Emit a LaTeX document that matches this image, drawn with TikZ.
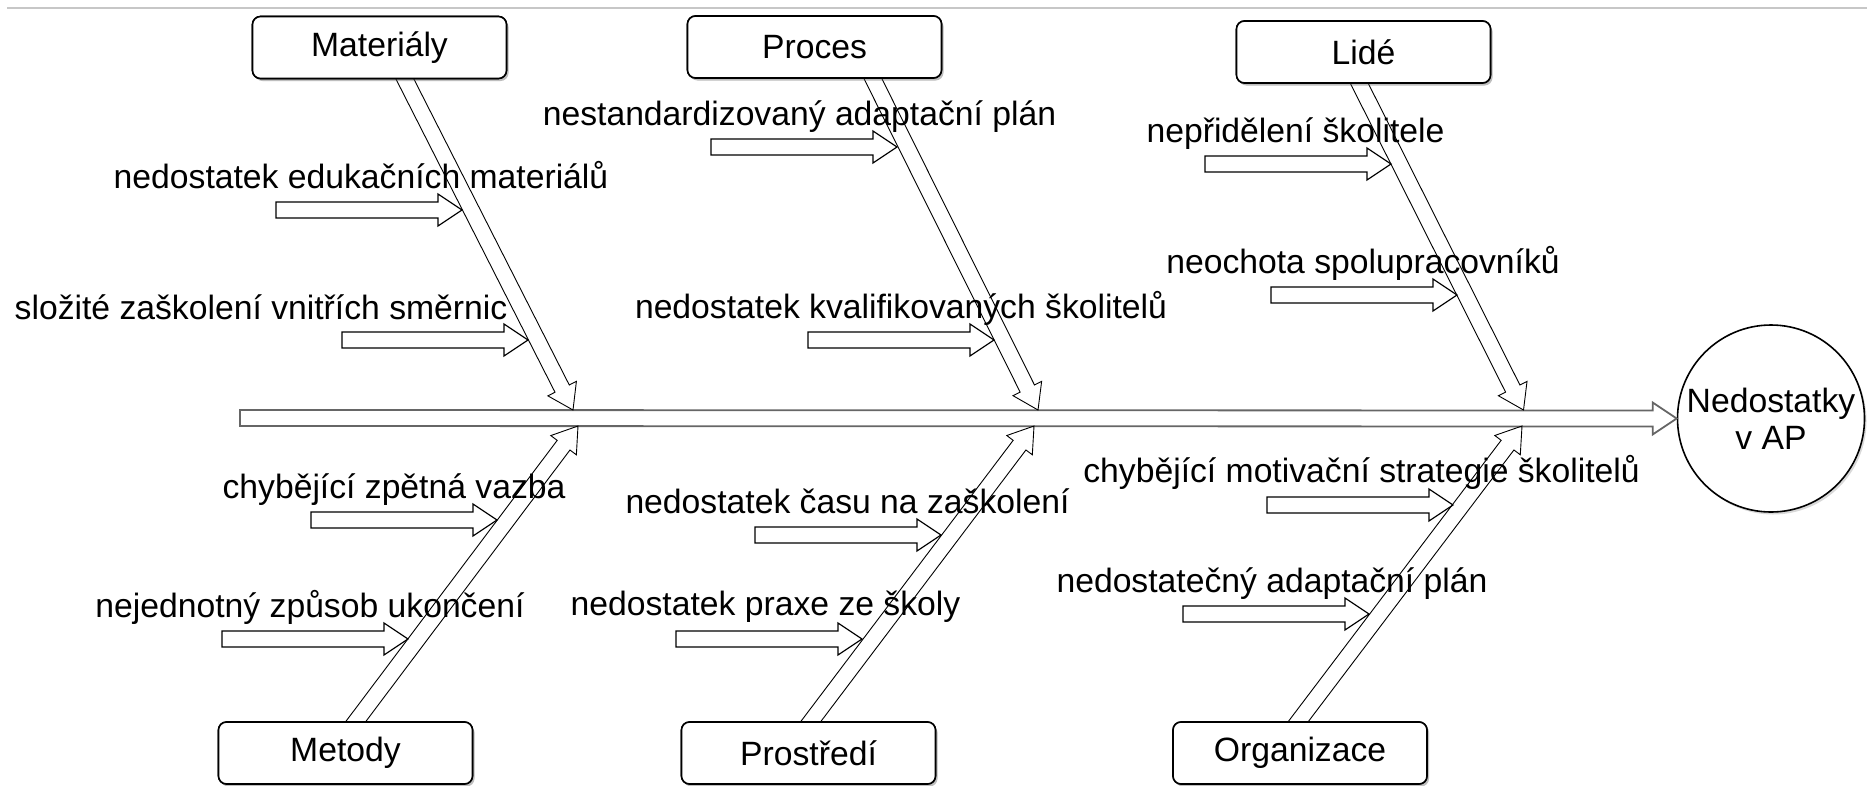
\documentclass[tikz,border=0pt]{standalone}
\usepackage{fontspec}
\setmainfont{Liberation Sans}
\usetikzlibrary{calc,shadows}
\newcommand\hollowarrow[3][]{%
  \coordinate (hwA) at (#2);
  \coordinate (hwB) at (#3);
  \coordinate (hwH) at ($(hwB)!24pt!(hwA)$);
  \draw[#1] ($(hwA)!8pt!90:(hwB)$) -- ($(hwH)!8pt!90:(hwB)$) -- ($(hwH)!16pt!90:(hwB)$) -- (hwB)
    -- ($(hwH)!16pt!-90:(hwB)$) -- ($(hwH)!8pt!-90:(hwB)$) -- ($(hwA)!8pt!-90:(hwB)$) -- cycle;
}
\begin{document}
\begin{tikzpicture}[x=1pt,y=-1pt,
  every node/.style={font=\fontsize{33.7pt}{37pt}\selectfont},
  box/.style={draw, line width=1.6pt, rounded corners=8pt, fill=white,
    minimum width=254pt, minimum height=62pt, inner sep=0pt,
    drop shadow={shadow xshift=2pt, shadow yshift=-2.5pt, opacity=0.3}},
  goalcirc/.style={draw, circle, line width=1.6pt, fill=white, minimum size=187pt,
    inner sep=0pt, align=center,
    drop shadow={shadow xshift=2pt, shadow yshift=-2.5pt, opacity=0.3}},
  lbl/.style={anchor=base, inner sep=0pt},
  spinearr/.style={draw=black!60, line width=1.8pt},
  bonearr/.style={draw=black, line width=0.9pt},
  causearr/.style={draw=black, line width=1.2pt}]
\useasboundingbox (0,0) rectangle (1867,785);
\draw[black!22, line width=1.5pt] (7,8) -- (1867,8);

% effect and spine
\node[goalcirc] (goal) at (1771,418.5) {Nedostatky\\v AP};
\coordinate (spS) at (240,418);
\hollowarrow[spinearr]{spS}{goal.west}

% category boxes
\node[box] (mat) at (379.5,47.5) {Materiály};
\node[box] (pro) at (814.5,47) {Proces};
\node[box] (lid) at (1363.5,52) {Lidé};
\node[box] (met) at (345.5,753) {Metody};
\node[box] (pst) at (808.5,753) {Prostředí};
\node[box] (org) at (1300,753) {Organizace};

% bones
\coordinate (bMs) at ([xshift=22.5pt, yshift=6pt]mat.south);
\coordinate (bMt) at (573,410);
\coordinate (bPs) at ([xshift=55.5pt, yshift=6pt]pro.south);
\coordinate (bPt) at (1038,410);
\coordinate (bLs) at ([xshift=-7pt, yshift=6pt]lid.south);
\coordinate (bLt) at (1523.5,410);
\coordinate (bEs) at ([xshift=6pt, yshift=-6pt]met.north);
\coordinate (bEt) at (578,426);
\coordinate (bRs) at ([xshift=-2pt, yshift=-6pt]pst.north);
\coordinate (bRt) at (1034,426);
\coordinate (bOs) at ([xshift=-6pt, yshift=-6pt]org.north);
\coordinate (bOt) at (1522,426);
\hollowarrow[bonearr]{bMs}{bMt}
\hollowarrow[bonearr]{bPs}{bPt}
\hollowarrow[bonearr]{bLs}{bLt}
\hollowarrow[bonearr]{bEs}{bEt}
\hollowarrow[bonearr]{bRs}{bRt}
\hollowarrow[bonearr]{bOs}{bOt}
% boxes drawn again over the bone ends
\node[box] at (mat) {Materiály};
\node[box] at (pro) {Proces};
\node[box] at (lid) {Lidé};
\node[box] at (met) {Metody};
\node[box] at (pst) {Prostředí};
\node[box] at (org) {Organizace};

% cause labels
\node[lbl] (t1) at (361,188) {nedostatek edukačních materiálů};
\node[lbl] (t2) at (261,319) {složité zaškolení vnitřích směrnic};
\node[lbl] (t3) at (799.5,125) {nestandardizovaný adaptační plán};
\node[lbl] (t4) at (901,318) {nedostatek kvalifikovaných školitelů};
\node[lbl] (t5) at (1295.5,142) {nepřidělení školitele};
\node[lbl] (t6) at (1363,273) {neochota spolupracovníků};
\node[lbl] (t7) at (394,498) {chybějící zpětná vazba};
\node[lbl] (t8) at (310,617) {nejednotný způsob ukončení};
\node[lbl] (t9) at (847.5,513) {nedostatek času na zaškolení};
\node[lbl] (t10) at (765.5,615) {nedostatek praxe ze školy};
\node[lbl] (t11) at (1361.5,482) {chybějící motivační strategie školitelů};
\node[lbl] (t12) at (1272,592) {nedostatečný adaptační plán};

% cause arrows
\coordinate (a1s) at (276,210);  \coordinate (a1t) at (462,210);
\coordinate (a2s) at (342,340);  \coordinate (a2t) at (528,340);
\coordinate (a3s) at (711,147);  \coordinate (a3t) at (897,147);
\coordinate (a4s) at (808,340);  \coordinate (a4t) at (994,340);
\coordinate (a5s) at (1205,164); \coordinate (a5t) at (1391,164);
\coordinate (a6s) at (1271,295); \coordinate (a6t) at (1457,295);
\coordinate (a7s) at (311,520);  \coordinate (a7t) at (497,520);
\coordinate (a8s) at (222,639);  \coordinate (a8t) at (408,639);
\coordinate (a9s) at (755,535);  \coordinate (a9t) at (941,535);
\coordinate (a10s) at (676,639); \coordinate (a10t) at (862,639);
\coordinate (a11s) at (1267,505); \coordinate (a11t) at (1453,505);
\coordinate (a12s) at (1183,614); \coordinate (a12t) at (1369,614);
\foreach \i in {1,...,12}{\hollowarrow[causearr]{a\i s}{a\i t}}
\end{tikzpicture}
\end{document}
